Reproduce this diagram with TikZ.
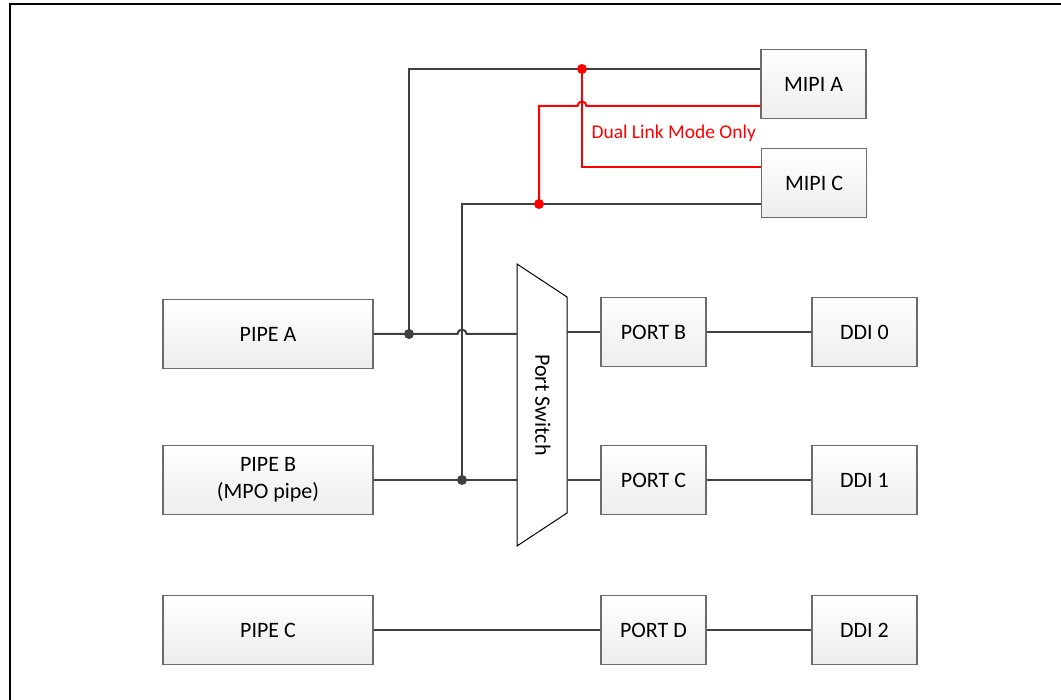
\documentclass[tikz,border=0pt]{standalone}
\usepackage{fontspec}
\setmainfont{Carlito}
\begin{document}
\begin{tikzpicture}[x=1pt,y=-1pt,
    box/.style={draw=gray!85!black,line width=1.1pt,top color=white,bottom color=gray!14,
        minimum width=210pt,minimum height=69pt,inner sep=0pt,align=center,
        font=\fontsize{22}{27}\selectfont},
    small/.style={box,minimum width=105pt},
    wire/.style={draw=black!75,line width=2pt},
    redwire/.style={draw=red,line width=2pt},
    dot/.style={circle,fill=black!75,inner sep=0pt,minimum size=10pt}]
    \useasboundingbox (0,0) rectangle (1061,700);
    % frame
    \draw[line width=2pt] (10,710) -- (10,4) -- (1070,4);
    % blocks
    \node[small] (ma) at (813.5,84) {MIPI A};
    \node[small] (mc) at (814,183) {MIPI C};
    \node[box] (pa) at (268,334) {PIPE A};
    \node[box] (pb) at (268,480) {PIPE B\\(MPO pipe)};
    \node[box] (pc) at (268,630) {PIPE C};
    \node[small] (portb) at (653.5,332) {PORT B};
    \node[small] (portc) at (653.5,480) {PORT C};
    \node[small] (portd) at (653.5,630) {PORT D};
    \node[small] (ddi0) at (864.5,332) {DDI 0};
    \node[small] (ddi1) at (864.5,480) {DDI 1};
    \node[small] (ddi2) at (864.5,630) {DDI 2};
    % port switch
    \draw[line width=1pt,fill=white] (517,264) -- (567,297) -- (567,513) -- (517,546) -- cycle;
    \node[rotate=-90,font=\fontsize{22}{26}\selectfont] (psw) at (543,405) {Port Switch};
    \coordinate (swA) at (517,334);
    \coordinate (swB) at (517,480);
    \coordinate (swC) at (567,332);
    \coordinate (swD) at (567,480);
    \coordinate (dA) at (409,334);
    \coordinate (dB) at (462,480);
    \coordinate (r1) at (582,69);
    \coordinate (r2) at (539,204);
    % wires
    \draw[wire] (pa.east) -- (457.5,334) arc[start angle=180,end angle=0,radius=4.5pt] -- (swA);
    \draw[wire] (dA) |- ([yshift=15pt]ma.west);
    \draw[wire] (pb.east) -- (swB);
    \draw[wire] (dB) |- ([yshift=-21pt]mc.west);
    \draw[wire] (swC) -- (portb);
    \draw[wire] (portb) -- (ddi0);
    \draw[wire] (swD) -- (portc);
    \draw[wire] (portc) -- (ddi1);
    \draw[wire] (pc) -- (portd);
    \draw[wire] (portd) -- (ddi2);
    % dual link
    \draw[redwire] (r1) |- ([yshift=16pt]mc.west);
    \draw[redwire] ([yshift=-22pt]ma.west) -- (586.5,106) arc[start angle=0,end angle=180,radius=4.5pt] -| (r2);
    \node[red,anchor=west,font=\fontsize{19.5}{23}\selectfont] (dlm) at (588,133) {Dual Link Mode Only};
    % junctions
    \node[dot] at (dA) {};
    \node[dot] at (dB) {};
    \node[dot,fill=red] at (r1) {};
    \node[dot,fill=red] at (r2) {};
\end{tikzpicture}
\end{document}
